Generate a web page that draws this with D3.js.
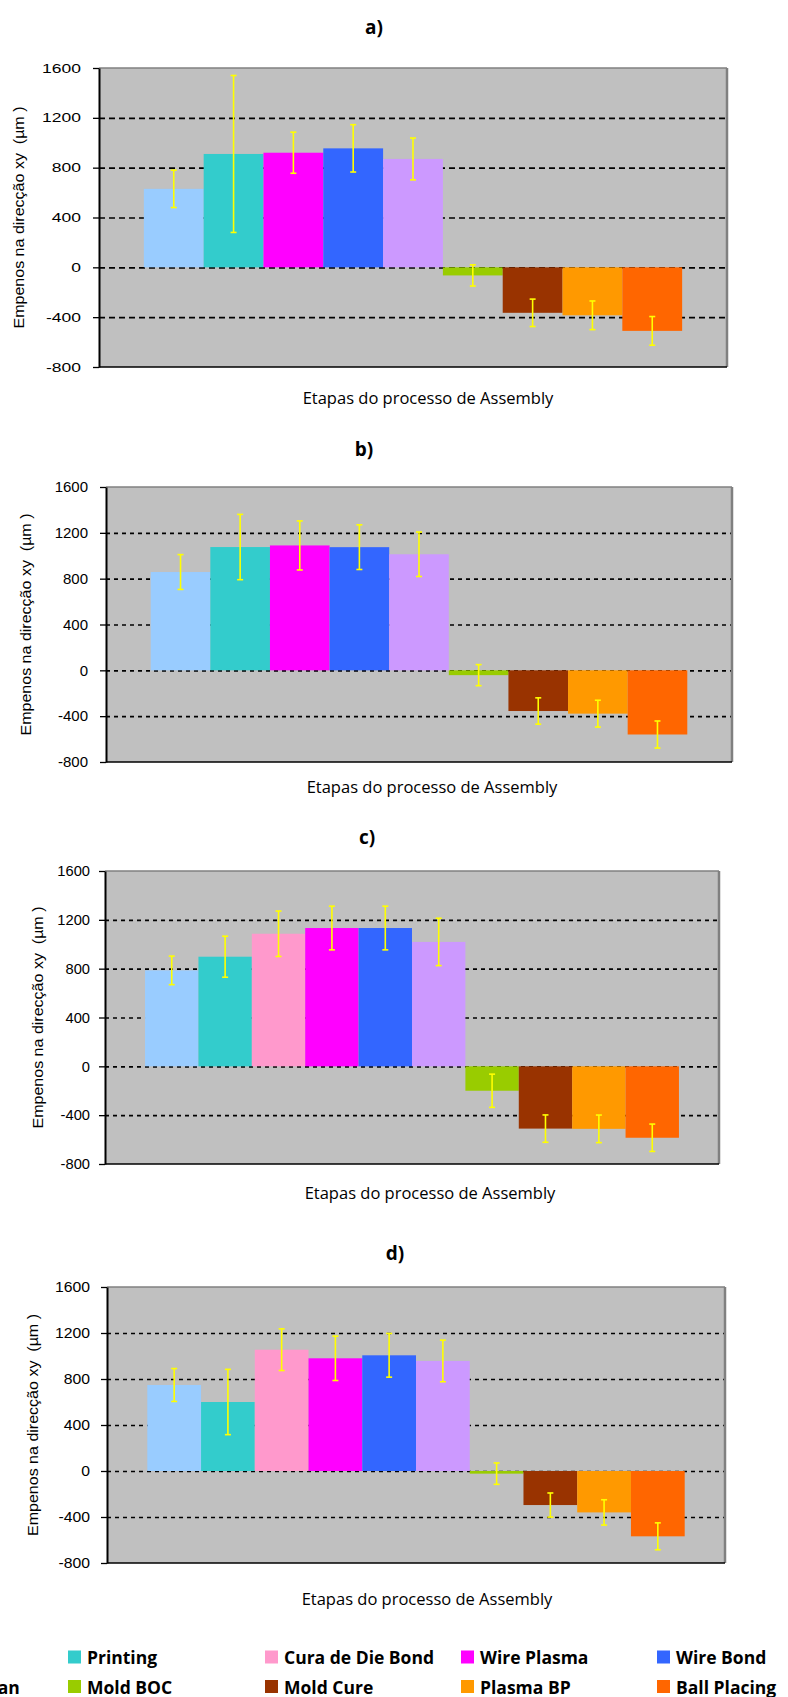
<!DOCTYPE html>
<html>
<head>
<meta charset="utf-8">
<script src="https://cdn.jsdelivr.net/npm/d3@7"></script>
<style>
  html, body { margin: 0; padding: 0; background: #fff; overflow: hidden; }
  text { white-space: pre; }
</style>
</head>
<body>
<svg id="chart" width="788" height="1697"></svg>
<script>
// series (legend order)
var seriesNames = ["Inicial", "Printing", "Cura de Die Bond", "Wire Plasma", "Wire Bond",
                   "Plasma Clean", "Mold BOC", "Mold Cure", "Plasma BP", "Ball Placing"];
var seriesColors = ["#99CCFF", "#33CCCC", "#FF99CC", "#FF00FF", "#3366FF",
                    "#CC99FF", "#99CC00", "#993300", "#FF9900", "#FF6600"];

var yTicks = [-800, -400, 0, 400, 800, 1200, 1600];
var gridTicks = [-400, 0, 400, 800, 1200];

var yTitle = "Empenos na direcção xy  (µm )";
var xTitle = "Etapas do processo de Assembly";

// warpage per stage (null = stage not in that chart)
var valuesA = [630, 910, null, 920, 955, 870, -65, -365, -385, -510];
var errorsA = [150, 630, null, 165, 190, 168, 85, 110, 115, 115];

var valuesB = [858, 1076, null, 1090, 1075, 1013, -42, -355, -378, -560];
var errorsB = [152, 285, null, 214, 195, 194, 92, 115, 117, 118];

var valuesC = [786, 898, 1086, 1133, 1133, 1019, -200, -510, -512, -585];
var errorsC = [117, 168, 186, 179, 179, 194, 136, 112, 113, 112];

var valuesD = [748, 600, 1055, 980, 1006, 957, -23, -296, -360, -568];
var errorsD = [143, 284, 181, 193, 190, 181, 93, 105, 110, 117];

// layout of the four panels (pixels)
var panels = [
  {title: "a)", values: valuesA, errors: errorsA, x0: 99, x1: 727, y0: 68, y1: 367,
   tx: 374, ty: 27, xtx: 428, xty: 397, ylx: 18, lblGap: 18, fs: 12.5, sx: 1.4, dash: "6,4"},
  {title: "b)", values: valuesB, errors: errorsB, x0: 106, x1: 732, y0: 487, y1: 762,
   tx: 364, ty: 449, xtx: 432, xty: 786, ylx: 25, lblGap: 18, fs: 15, sx: 1.0, dash: "4,4"},
  {title: "c)", values: valuesC, errors: errorsC, x0: 105, x1: 719, y0: 871, y1: 1164,
   tx: 367, ty: 837, xtx: 430, xty: 1192, ylx: 37, lblGap: 15, fs: 15, sx: 0.98, dash: "4,4"},
  {title: "d)", values: valuesD, errors: errorsD, x0: 107, x1: 725, y0: 1287, y1: 1563,
   tx: 395, ty: 1253, xtx: 427, xty: 1598, ylx: 32, lblGap: 17, fs: 15, sx: 1.05, dash: "4,4"}
];

// legend column positions (first column runs off the left edge, as in the original)
var legendCols = [-116, 68, 265, 461, 657];
var legendRows = [1657, 1686.5];

var svg = d3.select("#chart");

panels.forEach(function(p) {
  var w = p.x1 - p.x0, h = p.y1 - p.y0;
  var rows = seriesNames.map(function(name, i) {
    return {name: name, color: seriesColors[i], value: p.values[i], err: p.errors[i]};
  }).filter(function(d) { return d.value !== null; });

  var x = d3.scaleBand()
    .domain(rows.map(function(d) { return d.name; }))
    .range([0, w])
    .paddingInner(0)
    .paddingOuter(0.75);

  var y = d3.scaleLinear().domain([-800, 1600]).range([h, 0]);

  var g = svg.append("g").attr("transform", "translate(" + p.x0 + "," + p.y0 + ")");

  g.append("rect").attr("width", w).attr("height", h).attr("fill", "#C0C0C0");

  // dashed gridlines
  var grid = g.append("g")
    .call(d3.axisLeft(y).tickValues(gridTicks).tickSize(-w).tickFormat(""));
  grid.select(".domain").remove();
  grid.selectAll("line")
    .attr("stroke", "#000")
    .attr("stroke-width", 1.6)
    .attr("stroke-dasharray", p.dash);

  // bars
  g.selectAll("rect.bar")
    .data(rows)
    .join("rect")
    .attr("class", "bar")
    .attr("x", function(d) { return x(d.name); })
    .attr("width", x.bandwidth())
    .attr("y", function(d) { return y(Math.max(0, d.value)); })
    .attr("height", function(d) { return Math.abs(y(d.value) - y(0)); })
    .attr("fill", function(d) { return d.color; });

  // error bars
  var eb = g.selectAll("g.err")
    .data(rows)
    .join("g")
    .attr("class", "err")
    .attr("transform", function(d) { return "translate(" + (x(d.name) + x.bandwidth() / 2) + ",0)"; });
  eb.append("line")
    .attr("y1", function(d) { return y(d.value + d.err); })
    .attr("y2", function(d) { return y(d.value - d.err); });
  eb.append("line")
    .attr("x1", -3).attr("x2", 3)
    .attr("y1", function(d) { return y(d.value + d.err); })
    .attr("y2", function(d) { return y(d.value + d.err); });
  eb.append("line")
    .attr("x1", -3).attr("x2", 3)
    .attr("y1", function(d) { return y(d.value - d.err); })
    .attr("y2", function(d) { return y(d.value - d.err); });
  eb.selectAll("line").attr("stroke", "#FFFF00").attr("stroke-width", 1.6);

  // frame: grey top/right, black bottom
  g.append("line").attr("x1", 0).attr("x2", w).attr("y1", 0).attr("y2", 0)
    .attr("stroke", "#808080").attr("stroke-width", 1.5);
  g.append("line").attr("x1", w).attr("x2", w).attr("y1", 0).attr("y2", h)
    .attr("stroke", "#808080").attr("stroke-width", 2.5);
  g.append("line").attr("x1", 0).attr("x2", w).attr("y1", h).attr("y2", h)
    .attr("stroke", "#000").attr("stroke-width", 1.5);

  // y axis
  var ax = g.append("g")
    .call(d3.axisLeft(y).tickValues(yTicks).tickSize(6).tickSizeOuter(0)
      .tickFormat(function(d) { return String(d); }));
  ax.select(".domain").attr("stroke", "#000").attr("stroke-width", 2);
  ax.selectAll(".tick line").attr("stroke", "#000").attr("stroke-width", 1.3);
  ax.selectAll(".tick text")
    .attr("x", -p.lblGap / p.sx)
    .attr("transform", "scale(" + p.sx + ",1)")
    .attr("fill", "#000")
    .style("font-family", "'Liberation Sans', Arial, sans-serif")
    .style("font-size", p.fs + "px");

  // y title
  svg.append("text")
    .attr("transform", "translate(" + p.ylx + "," + ((p.y0 + p.y1) / 2) + ") rotate(-90)")
    .attr("text-anchor", "middle")
    .attr("dominant-baseline", "central")
    .attr("textLength", 222)
    .attr("lengthAdjust", "spacingAndGlyphs")
    .style("font-family", "'Liberation Sans', Arial, sans-serif")
    .style("font-size", "15px")
    .text(yTitle);

  // panel title
  svg.append("text")
    .attr("x", p.tx).attr("y", p.ty)
    .attr("text-anchor", "middle")
    .attr("dominant-baseline", "central")
    .style("font-family", "'Open Sans', sans-serif")
    .style("font-weight", "bold")
    .style("font-size", "19px")
    .text(p.title);

  // x title
  svg.append("text")
    .attr("x", p.xtx).attr("y", p.xty)
    .attr("text-anchor", "middle")
    .attr("dominant-baseline", "central")
    .style("font-family", "'Open Sans', sans-serif")
    .style("font-size", "16.5px")
    .text(xTitle);
});

// legend
var item = svg.append("g").selectAll("g")
  .data(seriesNames)
  .join("g")
  .attr("transform", function(d, i) {
    return "translate(" + legendCols[i % 5] + "," + legendRows[Math.floor(i / 5)] + ")";
  });
item.append("rect")
  .attr("x", 0).attr("y", -6.5)
  .attr("width", 13).attr("height", 13)
  .attr("fill", function(d, i) { return seriesColors[i]; });
item.append("text")
  .attr("x", 19)
  .attr("dominant-baseline", "central")
  .style("font-family", "'Open Sans', sans-serif")
  .style("font-weight", "bold")
  .style("font-size", "17.5px")
  .text(function(d) { return d; });
</script>
</body>
</html>
